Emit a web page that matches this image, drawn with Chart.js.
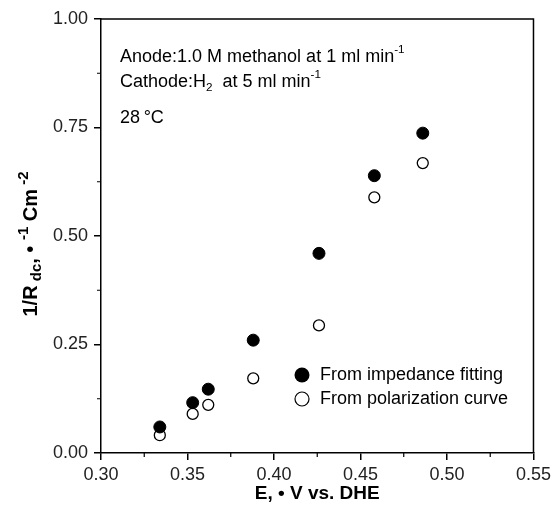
<!DOCTYPE html>
<html>
<head>
<meta charset="utf-8">
<script src="https://cdn.jsdelivr.net/npm/chart.js@4/dist/chart.umd.min.js"></script>
<style>
  html, body { margin: 0; padding: 0; background: #fff; }
  #wrap { width: 555px; height: 513px; }
</style>
</head>
<body>
<div id="wrap"><canvas id="c" width="555" height="513"></canvas></div>
<script>
// ---- data ----
const potentials = [0.334, 0.353, 0.362, 0.388, 0.426, 0.458, 0.486];
const fromImpedance = [0.060, 0.116, 0.147, 0.260, 0.460, 0.639, 0.737];
const fromPolarization = [0.041, 0.090, 0.111, 0.172, 0.294, 0.589, 0.668];
const seriesNames = ['From impedance fitting', 'From polarization curve'];
const xTicks = [0.30, 0.35, 0.40, 0.45, 0.50, 0.55];
const yTicks = [0.00, 0.25, 0.50, 0.75, 1.00];
const xMinorTicks = [0.325, 0.375, 0.425, 0.475, 0.525];
const yMinorTicks = [0.125, 0.375, 0.625, 0.875];

const FONT = "'Liberation Sans', Arial, Helvetica, sans-serif";

function pts(xs, ys) { return xs.map((x, i) => ({ x: x, y: ys[i] })); }

// draw text made of segments: {t, mode:'n'|'sub'|'sup'}
function segWidth(ctx, segs, size, weight, ratio) {
  let w = 0;
  segs.forEach(s => {
    const fs = s.mode === 'n' ? size : size * ratio;
    ctx.font = weight + ' ' + fs + 'px ' + FONT;
    w += ctx.measureText(s.t).width;
  });
  return w;
}
function drawSegs(ctx, segs, x, y, size, weight, ratio) {
  let cx = x;
  segs.forEach(s => {
    const fs = s.mode === 'n' ? size : size * ratio;
    ctx.font = weight + ' ' + fs + 'px ' + FONT;
    let dy = 0;
    if (s.mode === 'sub') dy = size * 0.3;
    if (s.mode === 'sup') dy = -size * 0.38;
    ctx.fillText(s.t, cx, y + dy);
    cx += ctx.measureText(s.t).width;
  });
}

const decorPlugin = {
  id: 'decor',
  afterDraw(chart) {
    const ctx = chart.ctx;
    const a = chart.chartArea;
    const xs = chart.scales.x, ys = chart.scales.y;
    ctx.save();
    // frame (top + right)
    ctx.strokeStyle = '#000';
    ctx.lineWidth = 1.5;
    ctx.beginPath();
    ctx.moveTo(a.left, a.top);
    ctx.lineTo(a.right, a.top);
    ctx.lineTo(a.right, a.bottom);
    ctx.stroke();
    // minor ticks
    ctx.lineWidth = 1.2;
    ctx.beginPath();
    xMinorTicks.forEach(v => {
      const px = xs.getPixelForValue(v);
      ctx.moveTo(px, a.bottom);
      ctx.lineTo(px, a.bottom + 4);
    });
    yMinorTicks.forEach(v => {
      const py = ys.getPixelForValue(v);
      ctx.moveTo(a.left, py);
      ctx.lineTo(a.left - 4, py);
    });
    ctx.stroke();

    ctx.fillStyle = '#000';
    ctx.textBaseline = 'middle';
    ctx.textAlign = 'left';
    // annotations
    drawSegs(ctx, [{t: 'Anode:1.0 M methanol at 1 ml min', mode: 'n'}, {t: '-1', mode: 'sup'}], 120, 57, 18, 'normal', 0.65);
    drawSegs(ctx, [{t: 'Cathode:H', mode: 'n'}, {t: '2', mode: 'sub'}, {t: '  at 5 ml min', mode: 'n'}, {t: '-1', mode: 'sup'}], 120, 82, 18, 'normal', 0.65);
    drawSegs(ctx, [{t: '28\u2009\u00B0C', mode: 'n'}], 120, 118, 18, 'normal', 0.65);

    // legend
    ctx.beginPath();
    ctx.arc(302, 375, 7.5, 0, Math.PI * 2);
    ctx.fillStyle = '#000';
    ctx.fill();
    ctx.beginPath();
    ctx.arc(302, 399, 7, 0, Math.PI * 2);
    ctx.fillStyle = '#fff';
    ctx.fill();
    ctx.lineWidth = 1.2;
    ctx.strokeStyle = '#000';
    ctx.stroke();
    ctx.fillStyle = '#000';
    ctx.font = '18px ' + FONT;
    ctx.fillText(seriesNames[0], 320, 375);
    ctx.fillText(seriesNames[1], 320, 399);

    // x axis title
    const xt = [{t: 'E, \u2022 V vs. DHE', mode: 'n'}];
    const xw = segWidth(ctx, xt, 19, 'bold', 0.7);
    drawSegs(ctx, xt, (a.left + a.right) / 2 - xw / 2, 494, 19, 'bold', 0.7);

    // y axis title
    const yt = [{t: '1/R', mode: 'n'}, {t: ' dc', mode: 'sub'}, {t: ', \u2022 ', mode: 'n'}, {t: '-1', mode: 'sup'}, {t: ' Cm', mode: 'n'}, {t: ' -2', mode: 'sup'}];
    const yw = segWidth(ctx, yt, 20, 'bold', 0.75);
    ctx.translate(31, (a.top + a.bottom) / 2 + 8);
    ctx.rotate(-Math.PI / 2);
    drawSegs(ctx, yt, -yw / 2, 0, 20, 'bold', 0.75);
    ctx.restore();
  }
};

new Chart(document.getElementById('c'), {
  type: 'scatter',
  data: {
    datasets: [
      {
        label: seriesNames[0],
        data: pts(potentials, fromImpedance),
        pointRadius: 6,
        pointBackgroundColor: '#000',
        pointBorderColor: '#000',
        pointBorderWidth: 1,
        showLine: false
      },
      {
        label: seriesNames[1],
        data: pts(potentials, fromPolarization),
        pointRadius: 5.5,
        pointBackgroundColor: '#fff',
        pointBorderColor: '#000',
        pointBorderWidth: 1.3,
        showLine: false
      }
    ]
  },
  options: {
    responsive: false,
    animation: false,
    events: [],
    layout: { padding: { left: 0, right: 19, top: 19, bottom: 0 } },
    plugins: { legend: { display: false }, tooltip: { enabled: false }, title: { display: false } },
    scales: {
      x: {
        type: 'linear',
        min: 0.30, max: 0.55,
        afterFit(s) { s.height = 60; },
        afterBuildTicks(s) { s.ticks = xTicks.map(v => ({ value: v })); },
        ticks: {
          color: '#222',
          font: { family: FONT, size: 18 },
          padding: 4,
          maxRotation: 0,
          callback: v => Number(v).toFixed(2)
        },
        grid: { drawOnChartArea: false, drawTicks: true, tickLength: 7, color: '#000', lineWidth: 1.5 },
        border: { display: true, color: '#000', width: 1.5 }
      },
      y: {
        type: 'linear',
        min: 0, max: 1,
        afterFit(s) { s.width = 101; },
        afterBuildTicks(s) { s.ticks = yTicks.map(v => ({ value: v })); },
        ticks: {
          color: '#222',
          font: { family: FONT, size: 18 },
          padding: 6,
          callback: v => Number(v).toFixed(2)
        },
        grid: { drawOnChartArea: false, drawTicks: true, tickLength: 7, color: '#000', lineWidth: 1.5 },
        border: { display: true, color: '#000', width: 1.5 }
      }
    }
  },
  plugins: [decorPlugin]
});
</script>
</body>
</html>
